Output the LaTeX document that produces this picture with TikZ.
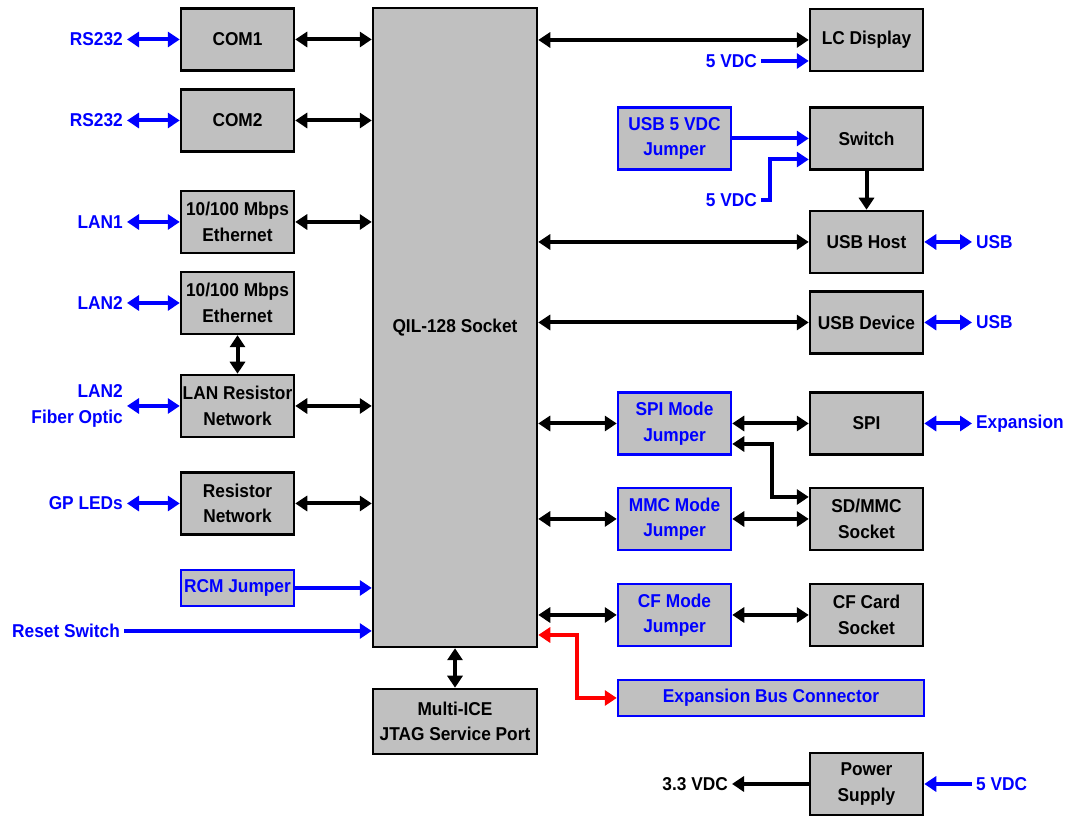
\documentclass[tikz,border=0pt]{standalone}
\usepackage{fontspec}
\setmainfont{Liberation Sans}[FakeStretch=0.93]
\usepackage{tikz}
\usetikzlibrary{positioning,arrows.meta,calc}

\begin{document}
\begin{tikzpicture}[x=1pt,y=1pt,
  font=\fontsize{18.6}{25.5}\selectfont\bfseries,
  blk/.style={draw=black,line width=2.5pt,fill=boxGray,align=center,
    minimum width=113,minimum height=62,inner sep=0pt},
  jmp/.style={blk,draw=blueColor,text=blueColor},
  lbl/.style={text=blueColor,align=right,inner sep=4pt},
  bus/.style={line width=4pt,{Triangle[length=12pt,width=15pt]}-{Triangle[length=12pt,width=15pt]}},
  feed/.style={line width=4pt,-{Triangle[length=12pt,width=15pt]}}]
\definecolor{boxGray}{RGB}{192,192,192}
\definecolor{blueColor}{RGB}{0,0,255}
\definecolor{redColor}{RGB}{255,0,0}
\path[use as bounding box,fill=white] (0,0) rectangle (1082,818);

% left column
\node[blk] (com1) at (237.5,778.5) {COM1};
\node[blk] (com2) at (237.5,697.5) {COM2};
\node[blk] (eth1) at (237.5,596) {10/100 Mbps\\Ethernet};
\node[blk] (eth2) at (237.5,515) {10/100 Mbps\\Ethernet};
\node[blk] (lanres) at (237.5,412) {LAN Resistor\\Network};
\node[blk] (resnet) at (237.5,314.5) {Resistor\\Network};
\node[jmp,minimum height=36] (rcm) at (237.5,230) {RCM Jumper};

% socket
\node[blk,minimum width=164,minimum height=639] (qil) at (455,490.5) {QIL-128 Socket};
\node[blk,minimum width=164,minimum height=65] (ice) at (455,96.5) {Multi-ICE\\JTAG Service Port};

% right column
\node[blk] (lcd) at (866.5,778) {LC Display};
\node[jmp] (usbjmp) at (674.5,679.5) {USB 5 VDC\\Jumper};
\node[blk] (switch) at (866.5,679.5) {Switch};
\node[blk] (usbhost) at (866.5,576) {USB Host};
\node[blk] (usbdev) at (866.5,495.5) {USB Device};
\node[jmp] (spijmp) at (674.5,394.5) {SPI Mode\\Jumper};
\node[blk] (spi) at (866.5,394.5) {SPI};
\node[jmp] (mmcjmp) at (674.5,299) {MMC Mode\\Jumper};
\node[blk] (sdmmc) at (866.5,299) {SD/MMC\\Socket};
\node[jmp] (cfjmp) at (674.5,203) {CF Mode\\Jumper};
\node[blk] (cfcard) at (866.5,203) {CF Card\\Socket};
\node[jmp,minimum width=306,minimum height=36] (expbus) at (771,120) {Expansion Bus Connector};
\node[blk] (power) at (866.5,34) {Power\\Supply};

% outside labels
\node[lbl,anchor=east] (rs1) at (127,778.5) {RS232};
\node[lbl,anchor=east] (rs2) at (127,697.5) {RS232};
\node[lbl,anchor=east] (lan1) at (127,596) {LAN1};
\node[lbl,anchor=east] (lan2) at (127,515) {LAN2};
\node[lbl,anchor=east] (fiber) at (127,412) {LAN2\\Fiber Optic};
\node[lbl,anchor=east] (leds) at (127,314.5) {GP LEDs};
\node[lbl,anchor=west] (reset) at (8,187) {Reset Switch};
\node[lbl,anchor=east] (vlcd) at (761,757) {5 VDC};
\node[lbl,anchor=east] (vsw) at (761,618) {5 VDC};
\node[lbl,anchor=west] (usb1) at (972,576) {USB};
\node[lbl,anchor=west] (usb2) at (972,495.5) {USB};
\node[lbl,anchor=west] (expn) at (972,394.5) {Expansion};
\node[lbl,anchor=east,text=black] (v33) at (732,34) {3.3 VDC};
\node[lbl,anchor=west] (vpwr) at (972,34) {5 VDC};

% left connectors
\draw[bus,blueColor] (rs1.east) -- (com1.west);
\draw[bus,blueColor] (rs2.east) -- (com2.west);
\draw[bus,blueColor] (lan1.east) -- (eth1.west);
\draw[bus,blueColor] (lan2.east) -- (eth2.west);
\draw[bus,blueColor] (fiber.east) -- (lanres.west);
\draw[bus,blueColor] (leds.east) -- (resnet.west);
\draw[bus] (com1.east) -- (com1.east -| qil.west);
\draw[bus] (com2.east) -- (com2.east -| qil.west);
\draw[bus] (eth1.east) -- (eth1.east -| qil.west);
\draw[bus] (eth2.south) -- (lanres.north);
\draw[bus] (lanres.east) -- (lanres.east -| qil.west);
\draw[bus] (resnet.east) -- (resnet.east -| qil.west);
\draw[feed,blueColor] (rcm.east) -- (rcm.east -| qil.west);
\draw[feed,blueColor] (reset.east) -- (reset.east -| qil.west);
\draw[bus] (qil.south) -- (ice.north);

% right connectors
\draw[bus] (qil.east |- lcd) -- (lcd.west);
\draw[feed,blueColor] (vlcd.east) -- (vlcd.east -| lcd.west);
\draw[feed,blueColor] (usbjmp.east) -- (switch.west);
\coordinate (swin) at ([yshift=-21pt]switch.west);
\draw[feed,blueColor] (vsw.east) -- ++(9,0) |- (swin);
\draw[feed] (switch.south) -- (usbhost.north);
\draw[bus] (qil.east |- usbhost) -- (usbhost.west);
\draw[bus,blueColor] (usbhost.east) -- (usb1.west);
\draw[bus] (qil.east |- usbdev) -- (usbdev.west);
\draw[bus,blueColor] (usbdev.east) -- (usb2.west);
\draw[bus] (qil.east |- spijmp) -- (spijmp.west);
\draw[bus] (spijmp.east) -- (spi.west);
\draw[bus,blueColor] (spi.east) -- (expn.west);
\coordinate (spiout) at ([yshift=-20.5pt]spijmp.east);
\coordinate (sdin) at ([yshift=22pt]sdmmc.west);
\draw[bus] (spiout) -- ++(40,0) |- (sdin);
\draw[bus] (qil.east |- mmcjmp) -- (mmcjmp.west);
\draw[bus] (mmcjmp.east) -- (sdmmc.west);
\draw[bus] (qil.east |- cfjmp) -- (cfjmp.west);
\draw[bus] (cfjmp.east) -- (cfcard.west);
\draw[bus,redColor] (qil.east |- 0,183) -- ++(39,0) |- (expbus.west);
\draw[feed] (power.west) -- (v33.east);
\draw[feed,blueColor] (vpwr.west) -- (power.east);
\end{tikzpicture}
\end{document}
